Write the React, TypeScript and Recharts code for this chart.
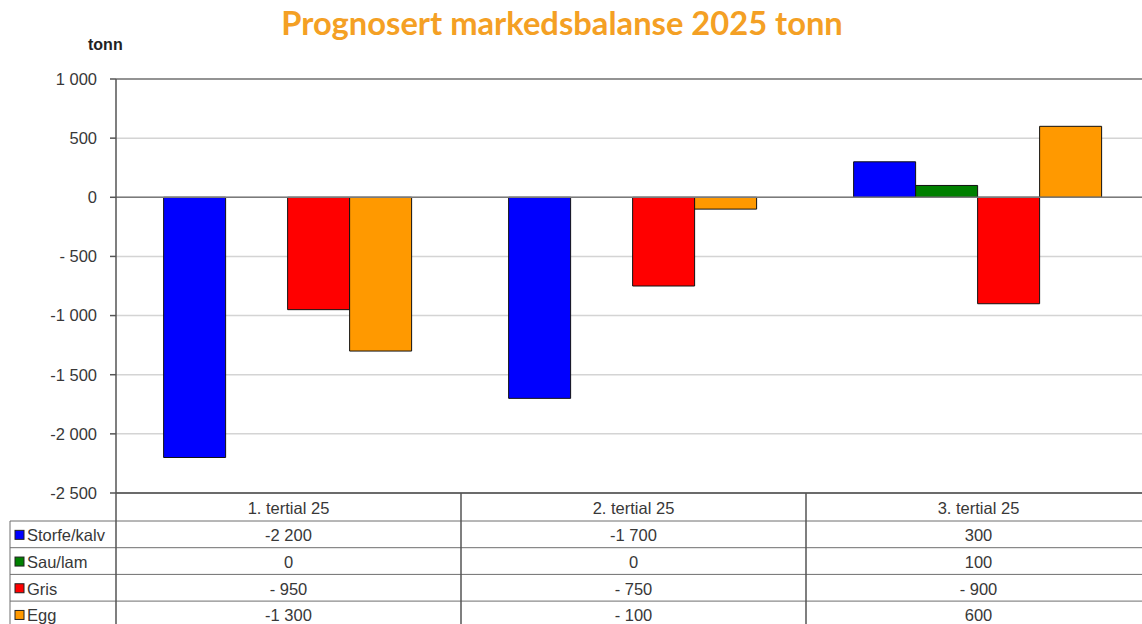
import React from 'react';
import { BarChart, Bar, XAxis, YAxis, CartesianGrid, ReferenceLine } from 'recharts';

const categories = ['1. tertial 25', '2. tertial 25', '3. tertial 25'];
const storfeKalv = [-2200, -1700, 300];
const sauLam = [0, 0, 100];
const gris = [-950, -750, -900];
const egg = [-1300, -100, 600];
const yTicks = [-2500, -2000, -1500, -1000, -500, 0, 500, 1000];

const seriesList = [
  { key: 'storfe', name: 'Storfe/kalv', values: storfeKalv, color: '#0000FF' },
  { key: 'sau', name: 'Sau/lam', values: sauLam, color: '#008000' },
  { key: 'gris', name: 'Gris', values: gris, color: '#FF0000' },
  { key: 'egg', name: 'Egg', values: egg, color: '#FF9900' },
];

const data = categories.map((c, i) => {
  const row: any = { name: c };
  seriesList.forEach((s) => {
    row[s.key] = s.values[i];
  });
  return row;
});

function fmt(v: number) {
  const a = Math.abs(v);
  const s = String(a).replace(/\B(?=(\d{3})+(?!\d))/g, ' ');
  if (v < 0) return a < 1000 ? '- ' + s : '-' + s;
  return s;
}

const FONT = '"Liberation Sans", Arial, sans-serif';
const FS = 16.5;
const HEAD_H = 28;
const ROW_H = 26.7;
const LEFT_W = 106;
const LINE = '#6e6e6e';
const TXT = '#383838';

function TableTick(props: any) {
  const { x, y, payload, index, width, visibleTicksCount } = props;
  const n = visibleTicksCount || categories.length;
  const band = (width || 1035) / n;
  const left = x - band / 2;
  const right = x + band / 2;
  const i = payload && payload.index != null ? payload.index : index;
  const bottom = y + 200;
  const els: any[] = [];
  els.push(
    <text key="h" x={x} y={y + HEAD_H / 2 + 1} textAnchor="middle" dominantBaseline="central" fontFamily={FONT} fontSize={FS} fill={TXT}>
      {payload.value}
    </text>
  );
  seriesList.forEach((s, r) => {
    const top = y + HEAD_H + r * ROW_H;
    els.push(
      <line key={'l' + r} x1={left} x2={right} y1={top} y2={top} stroke={LINE} strokeWidth={1} />
    );
    els.push(
      <text key={'t' + r} x={x} y={top + ROW_H / 2 + 1} textAnchor="middle" dominantBaseline="central" fontFamily={FONT} fontSize={FS} fill={TXT}>
        {fmt(s.values[i])}
      </text>
    );
    if (i === 0) {
      const lx = left - LEFT_W;
      els.push(
        <line key={'ll' + r} x1={lx} x2={left} y1={top} y2={top} stroke={LINE} strokeWidth={1} />
      );
      els.push(
        <rect key={'sq' + r} x={lx + 5} y={top + ROW_H / 2 - 4} width={9} height={9} fill={s.color} stroke="#222" strokeWidth={1} />
      );
      els.push(
        <text key={'lt' + r} x={lx + 17} y={top + ROW_H / 2 + 1} dominantBaseline="central" fontFamily={FONT} fontSize={FS} fill={TXT}>
          {s.name}
        </text>
      );
    }
  });
  els.push(<line key="v" x1={left} x2={left} y1={y} y2={bottom} stroke="#555" strokeWidth={1.5} />);
  if (i === 0) {
    els.push(<line key="v0" x1={left - LEFT_W} x2={left - LEFT_W} y1={y + HEAD_H} y2={bottom} stroke={LINE} strokeWidth={1} />);
  }
  if (i === n - 1) {
    els.push(<line key="vr" x1={right} x2={right} y1={y} y2={bottom} stroke="#555" strokeWidth={1.5} />);
  }
  return <g>{els}</g>;
}

export default function App() {
  return (
    <div style={{ position: 'fixed', left: 0, top: 0, width: 1142, height: 624, overflow: 'hidden', background: '#fff' }}>
      <div
        style={{
          position: 'absolute',
          left: 0,
          width: 1124,
          top: 3,
          textAlign: 'center',
          fontFamily: 'Lato, "Open Sans", sans-serif',
          fontWeight: 700,
          fontSize: 32.7,
          color: '#F4A024',
          lineHeight: '40px',
        }}
      >
        Prognosert markedsbalanse 2025 tonn
      </div>
      <div
        style={{
          position: 'absolute',
          left: 88,
          top: 36,
          fontFamily: FONT,
          fontWeight: 700,
          fontSize: 16,
          color: '#222',
        }}
      >
        tonn
      </div>
      <div style={{ position: 'absolute', left: 0, top: 0 }}>
        <BarChart
          width={1160}
          height={650}
          data={data}
          margin={{ top: 79, right: 9, left: 36, bottom: 0 }}
          barGap={0}
          barCategoryGap="13.8%"
        >
          <CartesianGrid vertical={false} stroke="#d4d4d4" strokeWidth={1.5} />
          <ReferenceLine y={1000} stroke="#7a7a7a" strokeWidth={1.5} />
          <ReferenceLine y={0} stroke="#7a7a7a" strokeWidth={1.5} />
          <XAxis
            dataKey="name"
            height={157}
            tickLine={false}
            tickSize={0}
            tickMargin={0}
            axisLine={{ stroke: '#444', strokeWidth: 1.5 }}
            tick={<TableTick />}
            interval={0}
          />
          <YAxis
            width={80}
            domain={[-2500, 1000]}
            ticks={yTicks}
            tickFormatter={fmt}
            tickSize={6}
            tickMargin={13}
            axisLine={{ stroke: '#555', strokeWidth: 1.5 }}
            tickLine={{ stroke: '#555', strokeWidth: 1.5 }}
            tick={{ fontFamily: FONT, fontSize: FS, fill: TXT }}
            interval={0}
          />
          {seriesList.map((s) => (
            <Bar key={s.key} dataKey={s.key} name={s.name} fill={s.color} stroke="#111" strokeWidth={1} isAnimationActive={false} />
          ))}
        </BarChart>
      </div>
    </div>
  );
}
